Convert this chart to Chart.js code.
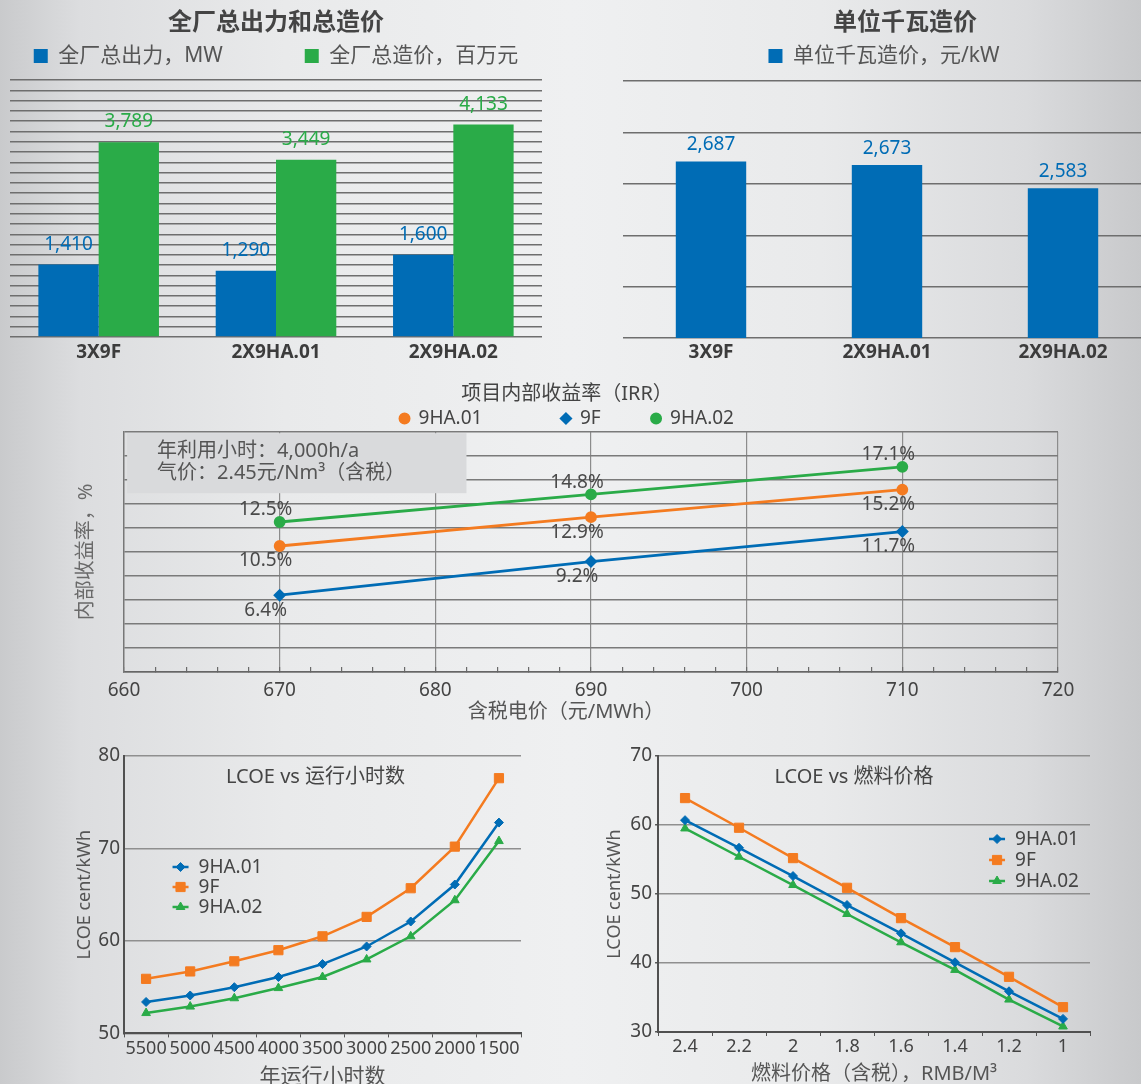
<!DOCTYPE html>
<html>
<head>
<meta charset="utf-8">
<title>燃机方案经济性比较</title>
<script src="https://cdn.jsdelivr.net/npm/chart.js@4.4.1/dist/chart.umd.min.js"></script>
<style>
    html, body { margin: 0; padding: 0; }
    body {
        width: 1141px; height: 1084px; overflow: hidden; position: relative;
        background: linear-gradient(90deg, #c9cacc 0%, #dcdddf 7%, #e9eaeb 25%, #eff0f1 50%, #e9eaeb 72%, #dadbdd 90%, #c8c9cb 100%);
    }
    .box { position: absolute; }
    #boxCapacity { left: 0; top: 0; width: 552px; height: 375px; }
    #boxUnit { left: 613px; top: 0; width: 584px; height: 375px; }
    #boxIrr { left: 60px; top: 375px; width: 1030px; height: 349px; }
    #boxHours { left: 60px; top: 740px; width: 480px; height: 350px; }
    #boxFuel { left: 590px; top: 740px; width: 551px; height: 346px; }
</style>
</head>
<body>
<div class="box" id="boxCapacity"><canvas id="capacityChart"></canvas></div>
<div class="box" id="boxUnit"><canvas id="unitChart"></canvas></div>
<div class="box" id="boxIrr"><canvas id="irrChart"></canvas></div>
<div class="box" id="boxHours"><canvas id="hoursChart"></canvas></div>
<div class="box" id="boxFuel"><canvas id="fuelChart"></canvas></div>

<script>
// --- Data ---
const plantNames = ["3X9F", "2X9HA.01", "2X9HA.02"];
const plantOutput = [1410, 1290, 1600];   // 全厂总出力, MW
const plantCost = [3789, 3449, 4133];     // 全厂总造价, 百万元
const unitCost = [2687, 2673, 2583];      // 单位千瓦造价, 元/kW

const irrPrice = [670, 690, 710];         // 含税电价, 元/MWh
const irr9HA01 = [10.5, 12.9, 15.2];
const irr9F = [6.4, 9.2, 11.7];
const irr9HA02 = [12.5, 14.8, 17.1];

const hourLabels = ["5500", "5000", "4500", "4000", "3500", "3000", "2500", "2000", "1500"];
const lcoeHours9HA01 = [53.4, 54.1, 55.0, 56.1, 57.5, 59.4, 62.1, 66.1, 72.8];
const lcoeHours9F = [55.9, 56.7, 57.8, 59.0, 60.5, 62.6, 65.7, 70.2, 77.6];
const lcoeHours9HA02 = [52.2, 52.9, 53.8, 54.9, 56.1, 58.0, 60.5, 64.4, 70.8];

const fuelLabels = ["2.4", "2.2", "2", "1.8", "1.6", "1.4", "1.2", "1"];
const lcoeFuel9HA01 = [60.7, 56.7, 52.6, 48.4, 44.3, 40.1, 35.9, 31.9];
const lcoeFuel9F = [63.9, 59.6, 55.2, 50.9, 46.5, 42.3, 38.0, 33.6];
const lcoeFuel9HA02 = [59.5, 55.4, 51.3, 47.1, 43.0, 39.0, 34.7, 30.8];

const BLUE = '#006cb5', GREEN = '#2aab48', ORANGE = '#f47b20';
const FONT = '"Noto Sans", "Noto Sans CJK SC", sans-serif';

Chart.defaults.font.family = FONT;
Chart.defaults.color = '#444';
Chart.defaults.animation = false;
Chart.defaults.plugins.tooltip.enabled = false;

// --- Small plugins ---
// extra room under the legend
const legendGap = {
    id: 'legendGap',
    beforeInit(chart, args, opts) {
        const legend = chart.legend;
        if (!legend) return;
        const fit = legend.fit;
        legend.fit = function () {
            fit.call(this);
            this.height += opts.gap || 0;
        };
    }
};

// value above every bar
const barValues = {
    id: 'barValues',
    afterDatasetsDraw(chart, args, opts) {
        const { ctx } = chart;
        ctx.save();
        ctx.font = `${opts.size}px ${FONT}`;
        ctx.textAlign = 'center';
        ctx.textBaseline = 'alphabetic';
        chart.data.datasets.forEach((ds, i) => {
            ctx.fillStyle = ds.backgroundColor;
            chart.getDatasetMeta(i).data.forEach((bar, j) => {
                ctx.fillText(ds.data[j].toLocaleString('en-US'), bar.x, bar.y - opts.offset);
            });
        });
        ctx.restore();
    }
};

// percent label next to every IRR point
const pointValues = {
    id: 'pointValues',
    afterDatasetsDraw(chart, args, opts) {
        const { ctx } = chart;
        ctx.save();
        ctx.font = `19px ${FONT}`;
        ctx.fillStyle = '#4a4a4a';
        ctx.textAlign = 'center';
        ctx.textBaseline = 'middle';
        chart.data.datasets.forEach((ds, i) => {
            const dy = opts.placement[i] === 'above' ? -12 : 15;
            chart.getDatasetMeta(i).data.forEach((pt, j) => {
                ctx.fillText(ds.data[j].y.toFixed(1) + '%', pt.x - 14, pt.y + dy);
            });
        });
        ctx.restore();
    }
};

// grey note box in the IRR chart
const noteBox = {
    id: 'noteBox',
    beforeDatasetsDraw(chart, args, opts) {
        const { ctx, scales: { x, y } } = chart;
        const left = x.getPixelForValue(opts.xMin), right = x.getPixelForValue(opts.xMax);
        const top = y.getPixelForValue(opts.yMax), bottom = y.getPixelForValue(opts.yMin);
        ctx.save();
        ctx.fillStyle = '#d9dadc';
        ctx.fillRect(left, top, right - left, bottom - top);
        ctx.fillStyle = '#555';
        ctx.font = `20px ${FONT}`;
        ctx.textAlign = 'left';
        ctx.textBaseline = 'middle';
        opts.lines.forEach((t, i) => ctx.fillText(t, left + 30, top + 18 + i * 22));
        ctx.restore();
    }
};

// title and legend drawn inside the plot (LCOE charts)
const insideText = {
    id: 'insideText',
    afterDatasetsDraw(chart, args, opts) {
        const { ctx, chartArea: area } = chart;
        ctx.save();
        ctx.fillStyle = '#454545';
        ctx.font = `20px ${FONT}`;
        ctx.textAlign = 'center';
        ctx.textBaseline = 'middle';
        ctx.fillText(opts.title, (area.left + area.right) / 2 + opts.titleDx, area.top + 21);
        ctx.font = `19px ${FONT}`;
        ctx.textAlign = 'left';
        chart.data.datasets.forEach((ds, i) => {
            const x = area.left + opts.legendX;
            const y = area.top + opts.legendY + i * opts.rowGap;
            ctx.strokeStyle = ds.borderColor;
            ctx.fillStyle = ds.borderColor;
            ctx.lineWidth = 2.5;
            ctx.beginPath();
            ctx.moveTo(x - 8, y);
            ctx.lineTo(x + 8, y);
            ctx.stroke();
            ctx.lineWidth = 1;
            Chart.helpers.drawPoint(ctx, { pointStyle: ds.pointStyle, radius: ds.pointRadius, rotation: 0, borderWidth: 1 }, x, y);
            ctx.fillStyle = '#454545';
            ctx.fillText(ds.label, x + 18, y + 1);
        });
        ctx.restore();
    }
};

// legend labels with extra trailing space to spread the items
function spacedLabels(gaps) {
    return chart => Chart.defaults.plugins.legend.labels.generateLabels(chart)
        .map((item, i) => ({ ...item, text: item.text + (gaps[i] || '') }));
}

const topTitle = text => ({
    display: true, text, color: '#444',
    font: { size: 24, weight: 'bold' },
    padding: { top: 8.6, bottom: 0 }
});
const topLegend = gaps => ({
    display: true,
    labels: {
        boxWidth: 14, boxHeight: 14, padding: 8, color: '#555',
        font: { size: 21 },
        generateLabels: spacedLabels(gaps)
    }
});
const categoryAxis = {
    grid: { display: false, drawTicks: false },
    border: { display: false },
    ticks: { color: '#3c3c3c', font: { size: 19, weight: 'bold' }, padding: 4.6 }
};

// --- 1. 全厂总出力和总造价 ---
new Chart(document.getElementById('capacityChart'), {
    type: 'bar',
    data: {
        labels: plantNames,
        datasets: [
            { label: '全厂总出力，MW', data: plantOutput, backgroundColor: BLUE },
            { label: '全厂总造价，百万元', data: plantCost, backgroundColor: GREEN }
        ]
    },
    options: {
        responsive: true,
        maintainAspectRatio: false,
        categoryPercentage: 0.68,
        barPercentage: 1,
        layout: { padding: { left: 10, right: 10, top: 0, bottom: 6 } },
        scales: {
            x: categoryAxis,
            y: {
                min: 0, max: 5000,
                ticks: { display: false, stepSize: 200 },
                grid: { color: '#6e6e6e', lineWidth: 1.4, drawTicks: false },
                border: { display: false }
            }
        },
        plugins: {
            title: topTitle('全厂总出力和总造价'),
            legend: topLegend(['\u3000\u3000\u3000  ', '']),
            legendGap: { gap: 3.6 },
            barValues: { size: 19, offset: 15 }
        }
    },
    plugins: [legendGap, barValues]
});

// --- 2. 单位千瓦造价 ---
new Chart(document.getElementById('unitChart'), {
    type: 'bar',
    data: {
        labels: plantNames,
        datasets: [{ label: '单位千瓦造价，元/kW', data: unitCost, backgroundColor: BLUE }]
    },
    options: {
        responsive: true,
        maintainAspectRatio: false,
        categoryPercentage: 0.4,
        barPercentage: 1,
        layout: { padding: { left: 10, right: 10, top: 0, bottom: 7 } },
        scales: {
            x: { ...categoryAxis, ticks: { ...categoryAxis.ticks, padding: 3.6 } },
            y: {
                position: 'right',
                min: 2000, max: 3000,
                ticks: { display: false, stepSize: 200 },
                grid: { color: '#6e6e6e', lineWidth: 1.4, drawTicks: false },
                border: { display: false },
                afterFit: scale => { scale.width = 36; }
            }
        },
        plugins: {
            title: topTitle('单位千瓦造价'),
            legend: topLegend(['\u3000\u3000']),
            legendGap: { gap: 4.6 },
            barValues: { size: 19, offset: 11 }
        }
    },
    plugins: [legendGap, barValues]
});

// --- 3. 项目内部收益率 (IRR) ---
const toPoints = vals => vals.map((v, i) => ({ x: irrPrice[i], y: v }));
const irrLine = (label, vals, color, pointStyle) => ({
    label, data: toPoints(vals),
    borderColor: color, backgroundColor: color,
    borderWidth: 2.8, pointStyle, pointRadius: 4.5, tension: 0
});

new Chart(document.getElementById('irrChart'), {
    type: 'line',
    data: {
        datasets: [
            irrLine('9HA.01', irr9HA01, ORANGE, 'circle'),
            irrLine('9F', irr9F, BLUE, 'rectRot'),
            irrLine('9HA.02', irr9HA02, GREEN, 'circle')
        ]
    },
    options: {
        responsive: true,
        maintainAspectRatio: false,
        layout: { padding: { left: 16, right: 32, top: 0, bottom: 0 } },
        scales: {
            x: {
                type: 'linear', min: 660, max: 720,
                ticks: {
                    stepSize: 2, autoSkip: false, maxRotation: 0, padding: 12.6,
                    color: '#444', font: { size: 19 },
                    callback: v => (v % 10 === 0 ? v : '')
                },
                grid: {
                    color: ctx => (ctx.tick && ctx.tick.value % 10 === 0 ? '#8c8c8c' : 'transparent'),
                    tickColor: '#6a6a6a', tickLength: -5, lineWidth: 1.2
                },
                border: { color: '#666', width: 1.6 },
                title: {
                    display: true, text: '含税电价（元/MWh）\u3000\u3000\u3000', color: '#555',
                    font: { size: 20 }, padding: { top: -15, bottom: 0 }
                }
            },
            y: {
                min: 0, max: 20,
                ticks: { display: false, stepSize: 2 },
                grid: { color: '#7a7a7a', lineWidth: 1.5, drawTicks: false },
                border: { color: '#777', width: 1.4 },
                title: {
                    display: true, text: '内部收益率，%', color: '#6a6a6a',
                    font: { size: 20 }, padding: { top: -2, bottom: 26 }
                }
            }
        },
        plugins: {
            title: {
                display: true, text: '项目内部收益率（IRR）', color: '#444',
                font: { size: 20, weight: 'normal' }, padding: { top: 7, bottom: 0 }
            },
            legend: {
                display: true,
                labels: {
                    usePointStyle: true, boxWidth: 9, boxHeight: 6.5, padding: 3,
                    color: '#444', font: { size: 19 },
                    generateLabels: spacedLabels(['\u3000\u3000\u3000\u3000', '\u3000\u3000  ', ''])
                }
            },
            legendGap: { gap: -6 },
            noteBox: {
                xMin: 660.2, xMax: 682, yMin: 14.9, yMax: 19.9,
                lines: ['年利用小时：4,000h/a', '气价：2.45元/Nm³（含税）']
            },
            pointValues: { placement: ['below', 'below', 'above'] }
        }
    },
    plugins: [legendGap, noteBox, pointValues]
});

// --- 4/5. LCOE charts ---
const lcoeLine = (label, data, color, pointStyle, pointRadius) => ({
    label, data, borderColor: color, backgroundColor: color,
    borderWidth: 2.5, pointStyle, pointRadius, pointBorderWidth: 1, tension: 0
});
const lcoeX = (title, titleSize, titlePadTop) => ({
    offset: true,
    grid: { offset: true, drawOnChartArea: false, tickLength: 4, tickColor: '#555' },
    border: { color: '#505050', width: 2 },
    ticks: { autoSkip: false, maxRotation: 0, minRotation: 0, padding: 0.5, color: '#444', font: { size: 18 } },
    title: { display: true, text: title, color: '#555', font: { size: titleSize }, padding: { top: titlePadTop, bottom: 0 } }
});
const lcoeY = (min, max, tickLen, tickPad, titlePad) => ({
    min, max,
    ticks: { stepSize: 10, padding: tickPad, color: '#444', font: { size: 19 } },
    grid: { color: '#8f8f8f', lineWidth: 1.4, drawTicks: tickLen > 0, tickLength: tickLen, tickColor: '#555' },
    border: { color: '#505050', width: 2 },
    title: { display: true, text: 'LCOE cent/kWh', color: '#555', font: { size: 18 }, padding: titlePad }
});

new Chart(document.getElementById('hoursChart'), {
    type: 'line',
    data: {
        labels: hourLabels,
        datasets: [
            lcoeLine('9HA.01', lcoeHours9HA01, BLUE, 'rectRot', 4.5),
            lcoeLine('9F', lcoeHours9F, ORANGE, 'rect', 6.5),
            lcoeLine('9HA.02', lcoeHours9HA02, GREEN, 'triangle', 5)
        ]
    },
    options: {
        responsive: true,
        maintainAspectRatio: false,
        layout: { padding: { left: 0, right: 19, top: 16, bottom: 0 } },
        scales: {
            x: lcoeX('年运行小时数', 21, 4.8),
            y: lcoeY(50, 80, 0, 4, { top: 13.7, bottom: -1 })
        },
        plugins: {
            legend: { display: false },
            insideText: { title: 'LCOE vs 运行小时数', titleDx: -7, legendX: 56.5, legendY: 111, rowGap: 20 }
        }
    },
    plugins: [insideText]
});

new Chart(document.getElementById('fuelChart'), {
    type: 'line',
    data: {
        labels: fuelLabels,
        datasets: [
            lcoeLine('9HA.01', lcoeFuel9HA01, BLUE, 'rectRot', 4.5),
            lcoeLine('9F', lcoeFuel9F, ORANGE, 'rect', 6.5),
            lcoeLine('9HA.02', lcoeFuel9HA02, GREEN, 'triangle', 5)
        ]
    },
    options: {
        responsive: true,
        maintainAspectRatio: false,
        layout: { padding: { left: 0, right: 51, top: 16, bottom: 0 } },
        scales: {
            x: lcoeX('燃料价格（含税），RMB/M³', 20, 3.4),
            y: lcoeY(30, 70, 3, 3, { top: 13.9, bottom: 1.8 })
        },
        plugins: {
            legend: { display: false },
            insideText: { title: 'LCOE vs 燃料价格', titleDx: -20, legendX: 339, legendY: 83, rowGap: 21 }
        }
    },
    plugins: [insideText]
});
</script>
</body>
</html>
